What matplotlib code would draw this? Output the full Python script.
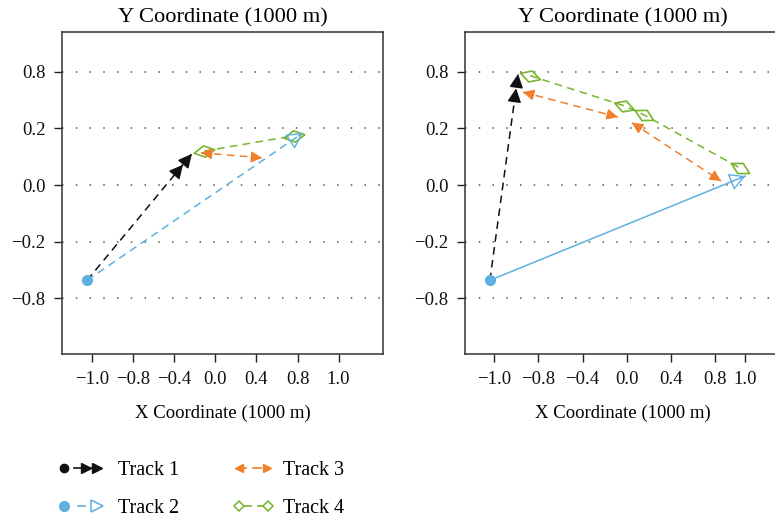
import numpy as np
import matplotlib
matplotlib.use("Agg")
import matplotlib.pyplot as plt
from matplotlib.lines import Line2D
from matplotlib.legend_handler import HandlerBase
from matplotlib.markers import MarkerStyle
from matplotlib.path import Path
from matplotlib.transforms import Affine2D

plt.rcParams['font.family'] = ['Liberation Serif', 'DejaVu Serif']
plt.rcParams['font.size'] = 13.5

# colours
BLACK = '#111111'
BLUE = '#5db0e0'
ORANGE = '#f07f2c'
GREEN = '#78b52e'

# axis ticks (positions are equally spaced, labels as printed)
y_ticks = [0, 1, 2, 3, 4]
y_labels = ['\u22120.8', '\u22120.2', '0.0', '0.2', '0.8']
x_labels = ['\u22121.0', '\u22120.8', '\u22120.4', '0.0', '0.4', '0.8', '1.0']
x_ticks_a = [0, 1, 2, 3, 4, 5, 6]
x_ticks_b = [0, 1, 2, 3, 4, 5, 5.68]

# panel (a) tracks, in axis units
t1_a_x = [-0.12, 2.43]
t1_a_y = [0.32, 2.55]
t2_a_x = [-0.12, 5.13]
t2_a_y = [0.32, 2.92]
t3_a_x = [2.65, 4.14]
t3_a_y = [2.57, 2.48]
t4_a_x = [2.73, 4.91]
t4_a_y = [2.60, 2.87]

# panel (b) tracks
t1_b_x = [-0.10, 0.54]
t1_b_y = [0.32, 3.96]
t2_b_x = [-0.10, 5.69]
t2_b_y = [0.32, 2.16]
t3_b_x = [0.65, 2.80, 3.12, 5.14]
t3_b_y = [3.64, 3.20, 3.10, 2.07]
t4_b_x = [0.81, 2.94, 3.39, 5.57]
t4_b_y = [3.93, 3.40, 3.24, 2.30]

DASH = (0, (5, 3.5))

rhomb = Path([(-1, 0), (0, 0.55), (1, 0), (0, -0.55), (-1, 0)],
             [Path.MOVETO, Path.LINETO, Path.LINETO, Path.LINETO, Path.CLOSEPOLY])


def head(ax, tail, tip, color, fc, ms, hl=0.6, hw=0.3, back=0.0):
    tail = np.array(tail, float)
    tip = np.array(tip, float)
    end = tip - back * (tip - tail)
    start = end - 0.02 * (tip - tail)
    ax.annotate('', xy=end, xytext=start,
                arrowprops=dict(arrowstyle='-|>,head_length=%s,head_width=%s' % (hl, hw),
                                ec=color, fc=fc, lw=1.0, mutation_scale=ms,
                                shrinkA=0, shrinkB=0), zorder=4)


def diamonds(ax, xs, ys, color):
    pts = ax.transData.transform(np.column_stack([xs, ys]))
    n = len(pts)
    for i in range(n):
        a = pts[max(i - 1, 0)]
        b = pts[min(i + 1, n - 1)]
        ang = np.degrees(np.arctan2(b[1] - a[1], b[0] - a[0]))
        m = MarkerStyle(rhomb, transform=Affine2D().rotate_deg(ang))
        ax.plot(xs[i], ys[i], marker=m, ms=15, mfc='none', mec=color, mew=1.2,
                ls='', zorder=3)


def style_axes(ax, xticks, xlim, cx=0.5):
    ax.set_xlim(*xlim)
    ax.set_ylim(-0.98, 4.70)
    ax.set_xticks(xticks)
    ax.set_xticklabels(x_labels)
    ax.set_yticks(y_ticks)
    ax.set_yticklabels(y_labels)
    ax.tick_params(direction='out', length=6, width=1, pad=6, colors='#222222',
                   labelcolor='#111111')
    for s in ax.spines.values():
        s.set_color('#333333')
        s.set_linewidth(1.1)
    ax.yaxis.grid(True, linestyle=(0, (1, 8)), color='#555555', lw=1.1)
    ax.set_axisbelow(True)
    ax.set_title('Y Coordinate (1000 m)', pad=7, x=cx)
    ax.set_xlabel('X Coordinate (1000 m)', labelpad=12, x=cx)


fig = plt.figure(figsize=(7.75, 5.2), dpi=100)
ax1 = fig.add_axes([0.0800, 0.3192, 0.4142, 0.6192])
ax2 = fig.add_axes([0.6000, 0.3192, 0.4300, 0.6192])
style_axes(ax1, x_ticks_a, (-0.73, 7.08))
style_axes(ax2, x_ticks_b, (-0.664, 6.89), cx=0.474)

# ---- panel a
ax1.plot(t4_a_x, t4_a_y, color=GREEN, ls=DASH, lw=1.1, zorder=2)
diamonds(ax1, t4_a_x, t4_a_y, GREEN)
ax1.plot(t1_a_x, t1_a_y, color=BLACK, ls=DASH, lw=1.1, zorder=2)
ax1.plot(t1_a_x[0], t1_a_y[0], 'o', color=BLACK, ms=6, zorder=3)
head(ax1, (t1_a_x[0], t1_a_y[0]), (t1_a_x[1], t1_a_y[1]), BLACK, BLACK, 14)
head(ax1, (t1_a_x[0], t1_a_y[0]), (t1_a_x[1], t1_a_y[1]), BLACK, BLACK, 14, back=0.085)
ax1.plot(t2_a_x, t2_a_y, color=BLUE, ls=DASH, lw=1.1, zorder=2)
head(ax1, (t2_a_x[0], t2_a_y[0]), (t2_a_x[1], t2_a_y[1]), BLUE, 'none', 15, hl=0.65, hw=0.36)
ax1.plot(t2_a_x[0], t2_a_y[0], 'o', color=BLUE, ms=7, zorder=5)
ax1.plot(t3_a_x, t3_a_y, color=ORANGE, ls=DASH, lw=1.1, zorder=2)
head(ax1, (t3_a_x[1], t3_a_y[1]), (t3_a_x[0], t3_a_y[0]), ORANGE, ORANGE, 11)
head(ax1, (t3_a_x[0], t3_a_y[0]), (t3_a_x[1], t3_a_y[1]), ORANGE, ORANGE, 11)

# ---- panel b
ax2.plot(t4_b_x, t4_b_y, color=GREEN, ls=DASH, lw=1.1, zorder=2)
diamonds(ax2, t4_b_x, t4_b_y, GREEN)
ax2.plot(t1_b_x, t1_b_y, color=BLACK, ls=DASH, lw=1.1, zorder=2)
ax2.plot(t1_b_x[0], t1_b_y[0], 'o', color=BLACK, ms=6, zorder=3)
head(ax2, (t1_b_x[0], t1_b_y[0]), (t1_b_x[1], t1_b_y[1]), BLACK, BLACK, 14)
head(ax2, (t1_b_x[0], t1_b_y[0]), (t1_b_x[1], t1_b_y[1]), BLACK, BLACK, 14, back=0.07)
ax2.plot(t2_b_x, t2_b_y, color=BLUE, ls='-', lw=1.1, zorder=2)
head(ax2, (t2_b_x[0], t2_b_y[0]), (t2_b_x[1], t2_b_y[1]), BLUE, 'none', 15, hl=0.65, hw=0.36)
ax2.plot(t2_b_x[0], t2_b_y[0], 'o', color=BLUE, ms=7, zorder=5)
for i in range(0, len(t3_b_x), 2):
    p = (t3_b_x[i], t3_b_y[i])
    q = (t3_b_x[i + 1], t3_b_y[i + 1])
    ax2.plot([p[0], q[0]], [p[1], q[1]], color=ORANGE, ls=DASH, lw=1.1, zorder=2)
    head(ax2, q, p, ORANGE, ORANGE, 11)
    head(ax2, p, q, ORANGE, ORANGE, 11)


# ---- legend
class TrackKey:
    def __init__(self, kind, color):
        self.kind = kind
        self.color = color


class TrackHandler(HandlerBase):
    def create_artists(self, legend, orig_handle, xdescent, ydescent, width, height,
                       fontsize, trans):
        c = orig_handle.color
        x0 = -xdescent
        y = -ydescent + height / 2
        w = width
        arts = []

        def seg(a, b):
            arts.append(Line2D([x0 + a * w, x0 + b * w], [y, y], color=c, lw=1.2))

        def mk(a, m, **kw):
            arts.append(Line2D([x0 + a * w], [y], marker=m, ls='', color=c, **kw))

        k = orig_handle.kind
        if k == 1:
            mk(0.12, 'o', ms=6)
            seg(0.35, 0.55)
            mk(0.62, '>', ms=7)
            mk(0.85, '>', ms=7)
            seg(0.55, 0.85)
        elif k == 2:
            mk(0.12, 'o', ms=7)
            seg(0.42, 0.6)
            mk(0.87, '>', ms=8, mfc='white', mew=1.1)
        elif k == 3:
            mk(0.34, '<', ms=6)
            seg(0.34, 0.5)
            seg(0.66, 0.85)
            mk(0.97, '>', ms=6)
        else:
            seg(0.38, 0.62)
            seg(0.78, 0.96)
            mk(0.34, 'D', ms=5, mfc='white', mew=1.1)
            mk(1.0, 'D', ms=5, mfc='white', mew=1.1)
        for a in arts:
            a.set_transform(trans)
        return arts


keys = [TrackKey(1, BLACK), TrackKey(2, BLUE), TrackKey(3, ORANGE), TrackKey(4, GREEN)]
names = ['Track 1', 'Track 2', 'Track 3', 'Track 4']
fig.legend(keys, names, handler_map={TrackKey: TrackHandler()}, ncol=2,
           loc='upper left', bbox_to_anchor=(0.076, 0.114), frameon=False,
           borderpad=0, borderaxespad=0, handlelength=2.2, handletextpad=0.75,
           columnspacing=2.2, labelspacing=0.95, fontsize=14.5)

fig.savefig('out.png', dpi=100)
